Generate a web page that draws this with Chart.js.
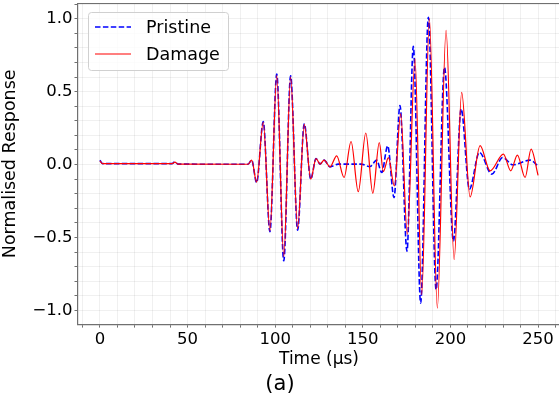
<!DOCTYPE html>
<html>
<head>
<meta charset="utf-8">
<script src="https://cdn.jsdelivr.net/npm/chart.js@4"></script>
<style>
    html, body { margin: 0; padding: 0; background: #fff; overflow: hidden; }
    #wrap { position: relative; width: 562px; height: 410px; }
</style>
</head>
<body>
<div id="wrap"><canvas id="waveChart"></canvas></div>
<script>
// values (time in µs, normalised amplitude)
const pristineTime = [0, 1.5, 41, 42.8, 44.5, 84.5, 86.6, 89.4, 93.2, 97.0, 100.9, 104.9, 108.8, 112.8, 116.6, 120.3, 123.3, 125.6, 127.9, 131.3, 136, 149, 154.1, 157.9, 160.8, 164.2, 167.8, 171.2, 175.2, 178.8, 183.0, 187.4, 191.8, 196.6, 201.7, 206.1, 210.8, 216.5, 223.6, 229.8, 235.7, 245.4, 250];
const pristineValue = [0.03, 0.006, 0.006, 0.018, 0.003, 0.002, 0.03, -0.124, 0.294, -0.46, 0.62, -0.66, 0.608, -0.45, 0.28, -0.10, 0.041, 0.003, 0.03, -0.016, 0.003, 0.003, -0.014, 0.03, -0.055, 0.128, -0.227, 0.404, -0.594, 0.81, -0.95, 1.01, -0.857, 0.667, -0.525, 0.381, -0.169, 0.083, -0.066, 0.048, -0.002, 0.03, -0.01];

const damageTime = [0, 1.5, 41, 42.8, 44.5, 84.5, 86.6, 89.4, 93.2, 97.0, 100.9, 104.9, 108.8, 112.8, 116.6, 120.3, 123.3, 125.6, 127.9, 131.3, 135.1, 139.3, 143.3, 147.4, 151.7, 155.7, 159.4, 161.7, 164.6, 168.0, 171.6, 175.4, 179.8, 183.6, 188.0, 192.5, 197.5, 202.1, 206.4, 211.2, 216.9, 222.6, 230.2, 234.4, 238.2, 242.6, 246.0, 250];
const damageValue = [0.025, 0.006, 0.006, 0.016, 0.003, 0.002, 0.03, -0.12, 0.29, -0.455, 0.61, -0.63, 0.6, -0.44, 0.275, -0.10, 0.041, 0.003, 0.03, -0.016, 0.06, -0.089, 0.158, -0.186, 0.216, -0.197, 0.151, -0.048, 0.048, -0.147, 0.347, -0.479, 0.725, -0.892, 1.0, -0.984, 0.92, -0.651, 0.495, -0.222, 0.129, -0.043, 0.072, -0.043, 0.065, -0.089, 0.106, -0.075];

const seriesLabels = ['Pristine', 'Damage'];
const xMajorLabels = [0, 50, 100, 150, 200, 250];
const yMajorLabels = [-1.0, -0.5, 0.0, 0.5, 1.0];

const FONT = '"DejaVu Sans", Verdana, sans-serif';
const spineColor = '#707070';
const gridColor = 'rgba(0,0,0,0.06)';

function toPoints(ts, vs) {
    return ts.map((t, i) => ({ x: t, y: vs[i] }));
}

// minor tick positions: every 10 on x, every 0.1 on y
const xTickValues = [];
for (let i = -1; i <= 26; i++) xTickValues.push(i * 10);
const yTickValues = [];
for (let i = -10; i <= 11; i++) yTickValues.push(Math.round(i) / 10);

const boxPlugin = {
    id: 'boxAndLegend',
    afterDraw(chart) {
        const { ctx, chartArea } = chart;
        ctx.save();
        // top spine
        ctx.strokeStyle = spineColor;
        ctx.lineWidth = 1.2;
        ctx.beginPath();
        ctx.moveTo(chartArea.left, chartArea.top);
        ctx.lineTo(chartArea.right, chartArea.top);
        ctx.stroke();

        // legend frame
        const bx = 88.5, by = 12.5, bw = 140, bh = 58, r = 3;
        ctx.beginPath();
        ctx.roundRect(bx, by, bw, bh, r);
        ctx.fillStyle = 'rgba(255,255,255,0.8)';
        ctx.fill();
        ctx.strokeStyle = '#d0d0d0';
        ctx.lineWidth = 1;
        ctx.stroke();

        const rows = [27, 54];
        chart.data.datasets.forEach((ds, i) => {
            ctx.beginPath();
            ctx.strokeStyle = ds.borderColor;
            ctx.lineWidth = ds.borderWidth;
            ctx.setLineDash(ds.borderDash || []);
            ctx.moveTo(95, rows[i]);
            ctx.lineTo(131, rows[i]);
            ctx.stroke();
            ctx.setLineDash([]);
            ctx.fillStyle = '#000';
            ctx.font = '17.5px ' + FONT;
            ctx.textBaseline = 'middle';
            ctx.fillText(ds.label, 146, rows[i] + 1);
        });
        ctx.restore();
    },
};

new Chart(document.getElementById('waveChart'), {
    type: 'line',
    data: {
        datasets: [
            {
                label: seriesLabels[0],
                data: toPoints(pristineTime, pristineValue),
                borderColor: '#0000ff',
                borderWidth: 1.6,
                borderDash: [5.5, 2.4],
                order: 2,
            },
            {
                label: seriesLabels[1],
                data: toPoints(damageTime, damageValue),
                borderColor: '#ff0000',
                borderWidth: 1.2,
                order: 1,
            },
        ],
    },
    options: {
        responsive: true,
        maintainAspectRatio: false,
        animation: false,
        layout: {
            padding: { left: 0, right: 2, top: 3.5, bottom: 0 },
        },
        elements: {
            line: {
                cubicInterpolationMode: 'monotone',
                fill: false,
            },
            point: {
                radius: 0,
            },
        },
        scales: {
            x: {
                type: 'linear',
                min: -12.5,
                max: 262.5,
                afterBuildTicks: (scale) => {
                    scale.ticks = xTickValues.map((v) => ({ value: v }));
                },
                afterFit: (scale) => {
                    scale.height = 47.7;
                    scale.paddingLeft = 0;
                    scale.paddingRight = 0;
                },
                ticks: {
                    autoSkip: false,
                    maxRotation: 0,
                    padding: 2,
                    color: '#000',
                    font: { family: FONT, size: 16.5 },
                    callback: (v) => (xMajorLabels.includes(v) ? String(v) : ''),
                },
                grid: {
                    color: gridColor,
                    tickColor: spineColor,
                    tickLength: 3.5,
                },
                border: { color: spineColor, width: 1.2 },
                title: {
                    display: true,
                    text: 'Time (μs)',
                    color: '#000',
                    font: { family: FONT, size: 17 },
                    padding: { top: 0, bottom: 2 },
                },
            },
            y: {
                min: -1.094,
                max: 1.104,
                afterBuildTicks: (scale) => {
                    scale.ticks = yTickValues.map((v) => ({ value: v }));
                },
                afterFit: (scale) => {
                    scale.width = 78;
                    scale.paddingTop = 0;
                    scale.paddingBottom = 0;
                },
                ticks: {
                    autoSkip: false,
                    padding: 2,
                    color: '#000',
                    font: { family: FONT, size: 16.5 },
                    callback: (v) => {
                        const hit = yMajorLabels.find((m) => Math.abs(m - v) < 1e-6);
                        return hit === undefined ? '' : hit.toFixed(1).replace('-', '\u2212');
                    },
                },
                grid: {
                    color: gridColor,
                    tickColor: spineColor,
                    tickLength: 3.5,
                },
                border: { color: spineColor, width: 1.2 },
                title: {
                    display: true,
                    text: 'Normalised Response',
                    color: '#000',
                    font: { family: FONT, size: 17.5 },
                    padding: { top: 0, bottom: 0 },
                },
            },
        },
        plugins: {
            legend: { display: false },
            tooltip: { enabled: false },
            title: {
                display: true,
                position: 'bottom',
                text: '(a)',
                color: '#000',
                font: { family: FONT, size: 21, weight: 'normal' },
                padding: { top: 0, bottom: 13 },
            },
        },
    },
    plugins: [boxPlugin],
});
</script>
</body>
</html>
